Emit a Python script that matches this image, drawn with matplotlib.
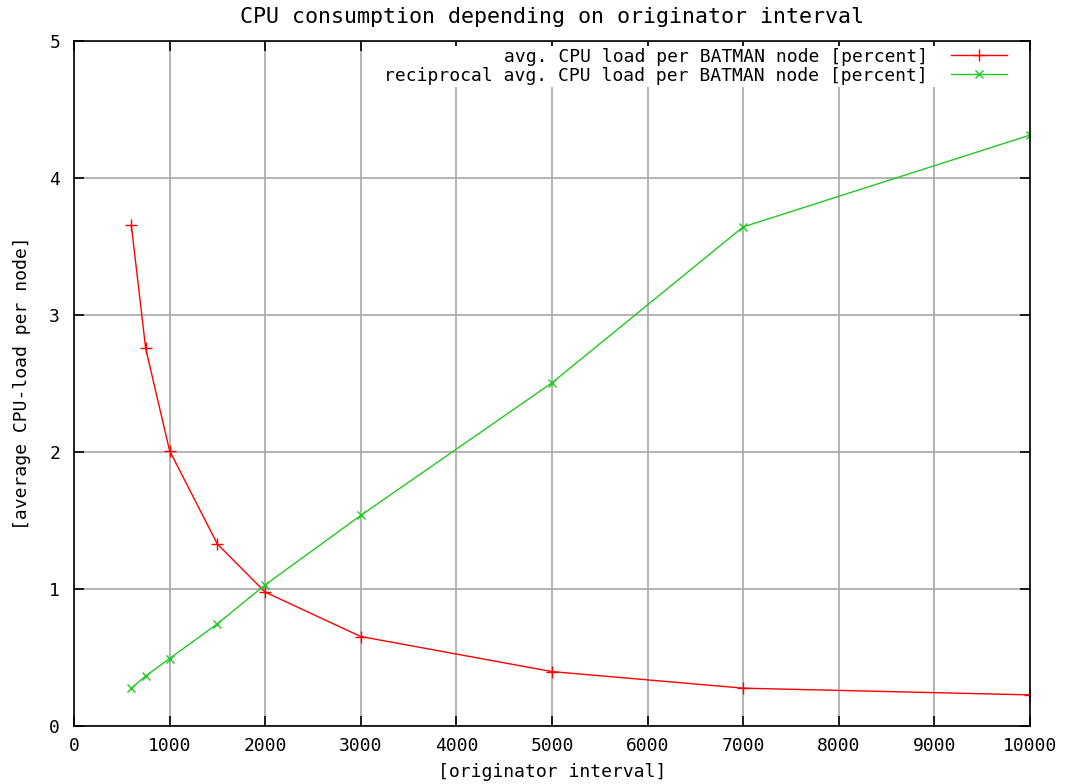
import matplotlib
matplotlib.use("Agg")
import matplotlib.pyplot as plt

# originator interval values
intervals = [600, 750, 1000, 1500, 2000, 3000, 5000, 7000, 10000]
# avg. CPU load per node [percent]
cpu_load = [3.655, 2.756, 2.01, 1.328, 0.977, 0.653, 0.397, 0.276, 0.227]
# reciprocal values
cpu_recip = [0.275, 0.365, 0.492, 0.746, 1.03, 1.537, 2.505, 3.643, 4.313]

label_load = "avg. CPU load per BATMAN node [percent]"
label_recip = "reciprocal avg. CPU load per BATMAN node [percent]"

plt.rcParams['font.family'] = 'DejaVu Sans Mono'
plt.rcParams['font.size'] = 13

fig = plt.figure(figsize=(10.72, 7.84), dpi=100)
ax = fig.add_axes([0.069, 0.074, 0.8918, 0.8737])

ax.plot(intervals, cpu_load, color='#ff0000', marker='+', markersize=8,
        linewidth=1, label=label_load)
ax.plot(intervals, cpu_recip, color='#22c822', marker='x', markersize=6,
        linewidth=1, label=label_recip)

ax.set_xlim(0, 10000)
ax.set_ylim(0, 5)
ax.set_xticks(range(0, 10001, 1000))
ax.set_yticks(range(0, 6))
ax.grid(True, color='#a8a8a8', linewidth=1.2)
ax.set_axisbelow(True)
ax.tick_params(direction='in', top=True, right=True, length=7, width=1.2,
               pad=8)
ax.tick_params(axis='y', pad=10)
for sp in ax.spines.values():
    sp.set_linewidth(1.2)

ax.set_title("CPU consumption depending on originator interval", pad=13)
ax.set_xlabel("[originator interval]", labelpad=6)
ax.set_ylabel("[average CPU-load per node]", labelpad=13)

leg = ax.legend(loc='upper right', bbox_to_anchor=(1009 / 1072, 1 - 46 / 784),
                bbox_transform=fig.transFigure, frameon=True, facecolor='white',
                edgecolor='none', framealpha=1, fancybox=False,
                markerfirst=False, handlelength=3.1, handletextpad=1.3,
                labelspacing=0.05, borderpad=0.1, borderaxespad=0)
leg.set_zorder(5)

fig.savefig("out.png", dpi=100)
